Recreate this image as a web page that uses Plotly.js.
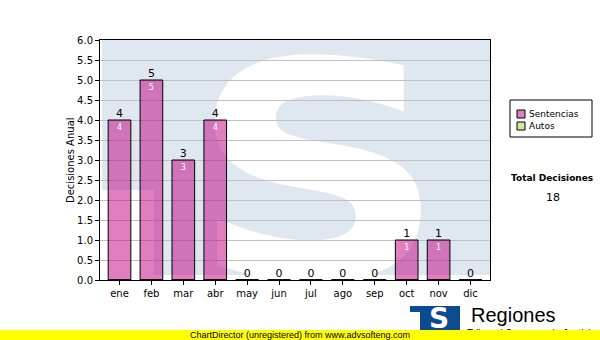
<!DOCTYPE html>
<html>
<head>
<meta charset="utf-8">
<script src="https://cdn.plot.ly/plotly-3.0.1.min.js"></script>
<style>html,body{margin:0;padding:0;background:#fff;}#chart{width:600px;height:340px;}</style>
</head>
<body>
<div id="chart"></div>
<script>
// ---- data ----
const months = ['ene','feb','mar','abr','may','jun','jul','ago','sep','oct','nov','dic'];
const sentencias = [4, 5, 3, 4, 0, 0, 0, 0, 0, 1, 1, 0];
const autos = [0, 0, 0, 0, 0, 0, 0, 0, 0, 0, 0, 0];
const seriesNames = ['Sentencias', 'Autos'];
const totalLabel = 'Total Decisiones';
const yTitle = 'Decisiones Anual';

// ---- styling ----
const colSent = 'rgba(192,0,128,0.5)';
const colAutos = 'rgba(170,212,60,0.5)';
const FONT = 'DejaVu Sans, Verdana, sans-serif';

// plot area in pixels: x 100..490, y 40..280
const L = 100, R = 490, T = 40, B = 280;
const px = v => (v - L) / (R - L);
const py = v => (B - v) / (B - T);

const total = sentencias.reduce((a, b) => a + b, 0) + autos.reduce((a, b) => a + b, 0);

// watermark (light blue T with white S) as svg image
const svg = "<svg xmlns='http://www.w3.org/2000/svg' width='600' height='340' viewBox='0 0 600 340'>" +
  "<rect x='102' y='40' width='388' height='235' fill='#dfe8f1'/>" +
  "<rect x='100' y='190' width='54' height='90' fill='#ffffff'/>" +
  "<text x='318' y='277' text-anchor='middle' font-family='DejaVu Sans' font-weight='bold' font-size='300' fill='#ffffff' textLength='258' lengthAdjust='spacingAndGlyphs'>S</text>" +
  "</svg>";
const svgUri = 'data:image/svg+xml;charset=utf-8,' + encodeURIComponent(svg);

const traces = [
  {
    type: 'bar', name: seriesNames[0], x: months, y: sentencias,
    marker: {color: colSent, line: {color: '#000', width: 1}},
    text: sentencias.map(v => v > 0 ? String(v) : ''),
    textposition: 'inside', insidetextanchor: 'end', constraintext: 'none',
    textangle: 0,
    insidetextfont: {family: FONT, size: 8, color: '#ffffff'},
    showlegend: false, hoverinfo: 'x+y'
  },
  {
    type: 'bar', name: seriesNames[1], x: months, y: autos,
    marker: {color: colAutos, line: {color: '#000', width: 1}},
    showlegend: false, hoverinfo: 'x+y'
  },
  {
    type: 'scatter', mode: 'text', x: months, y: sentencias,
    text: sentencias.map(String), textposition: 'top center',
    textfont: {family: FONT, size: 11, color: '#000'},
    showlegend: false, hoverinfo: 'skip', cliponaxis: false
  }
];

const shapes = [
  // legend box
  {type: 'rect', xref: 'paper', yref: 'paper', x0: px(510), x1: px(592), y0: py(100), y1: py(137),
   line: {color: '#000', width: 1}, fillcolor: '#ffffff', layer: 'above'},
  {type: 'rect', xref: 'paper', yref: 'paper', x0: px(517), x1: px(525), y0: py(110), y1: py(118),
   line: {color: '#000', width: 1}, fillcolor: colSent, layer: 'above'},
  {type: 'rect', xref: 'paper', yref: 'paper', x0: px(517), x1: px(525), y0: py(122), y1: py(130),
   line: {color: '#000', width: 1}, fillcolor: colAutos, layer: 'above'},
  // logo
  {type: 'rect', xref: 'paper', yref: 'paper', x0: px(410), x1: px(460), y0: py(340), y1: py(306),
   line: {width: 0}, fillcolor: '#0d4b90', layer: 'above'},
  {type: 'rect', xref: 'paper', yref: 'paper', x0: px(410), x1: px(420), y0: py(340), y1: py(312),
   line: {width: 0}, fillcolor: '#ffffff', layer: 'above'}
];

const annotations = [
  // y axis title
  {xref: 'paper', yref: 'paper', x: px(70), y: py(160), xanchor: 'center', yanchor: 'middle',
   text: yTitle, textangle: -90, showarrow: false, font: {family: FONT, size: 10, color: '#000'}},
  {xref: 'paper', yref: 'paper', x: px(527), y: py(114), xanchor: 'left', yanchor: 'middle',
   text: seriesNames[0], showarrow: false, font: {family: FONT, size: 9, color: '#000'}},
  {xref: 'paper', yref: 'paper', x: px(527), y: py(126), xanchor: 'left', yanchor: 'middle',
   text: seriesNames[1], showarrow: false, font: {family: FONT, size: 9, color: '#000'}},
  {xref: 'paper', yref: 'paper', x: px(552), y: py(178), xanchor: 'center', yanchor: 'middle',
   text: '<b>' + totalLabel + '</b>', showarrow: false, font: {family: FONT, size: 9, color: '#000'}},
  {xref: 'paper', yref: 'paper', x: px(553), y: py(197), xanchor: 'center', yanchor: 'middle',
   text: String(total), showarrow: false, font: {family: FONT, size: 11, color: '#000'}},
  // logo S
  {xref: 'paper', yref: 'paper', x: px(439), y: py(318), xanchor: 'center', yanchor: 'middle',
   text: '<b>S</b>', showarrow: false, font: {family: 'DejaVu Sans', size: 28, color: '#ffffff'}},
  {xref: 'paper', yref: 'paper', x: px(469), y: py(315), xanchor: 'left', yanchor: 'middle',
   text: 'Regiones', showarrow: false, font: {family: 'Liberation Sans, Arial, sans-serif', size: 20, color: '#000'}},
  {xref: 'paper', yref: 'paper', x: px(465), y: py(333), xanchor: 'left', yanchor: 'middle',
   text: 'Tribunal Supremo de Justicia', showarrow: false, font: {family: 'Liberation Sans, Arial, sans-serif', size: 10, color: '#000'}},
  // ChartDirector bar
  {xref: 'paper', yref: 'paper', x: px(300), y: py(335), xanchor: 'center', yanchor: 'middle',
   text: 'ChartDirector (unregistered) from www.advsofteng.com', showarrow: false,
   bgcolor: '#ffff00', width: 600, height: 10, borderpad: 0, borderwidth: 0,
   font: {family: 'Liberation Sans, Arial, sans-serif', size: 9, color: '#000'}}
];

const layout = {
  width: 600, height: 340,
  margin: {l: L, r: 600 - R, t: T, b: 340 - B, pad: 0},
  paper_bgcolor: '#ffffff',
  plot_bgcolor: 'rgba(0,0,0,0)',
  barmode: 'overlay',
  bargap: 0.29,
  showlegend: false,
  uniformtext: {mode: false},
  font: {family: FONT, size: 10, color: '#000'},
  xaxis: {
    type: 'category', showline: true, linecolor: '#000', linewidth: 1, mirror: true,
    ticks: 'outside', ticklen: 4, tickcolor: '#000', showgrid: false, zeroline: false,
    tickfont: {family: FONT, size: 10, color: '#000'}, fixedrange: true
  },
  yaxis: {
    range: [0, 6], dtick: 0.5, tick0: 0, tickformat: '.1f',
    showline: true, linecolor: '#000', linewidth: 1, mirror: true,
    ticks: 'outside', ticklen: 4, tickcolor: '#000',
    showgrid: true, gridcolor: '#c0c0c0', gridwidth: 1, zeroline: false,
    tickfont: {family: FONT, size: 10, color: '#000'},
    fixedrange: true
  },
  images: [{
    source: svgUri, xref: 'paper', yref: 'paper',
    x: px(0), y: py(0), sizex: 600 / (R - L), sizey: 340 / (B - T),
    xanchor: 'left', yanchor: 'top', sizing: 'stretch', layer: 'below'
  }],
  shapes: shapes,
  annotations: annotations
};

Plotly.newPlot('chart', traces, layout, {displayModeBar: false, staticPlot: true});
</script>
</body>
</html>
